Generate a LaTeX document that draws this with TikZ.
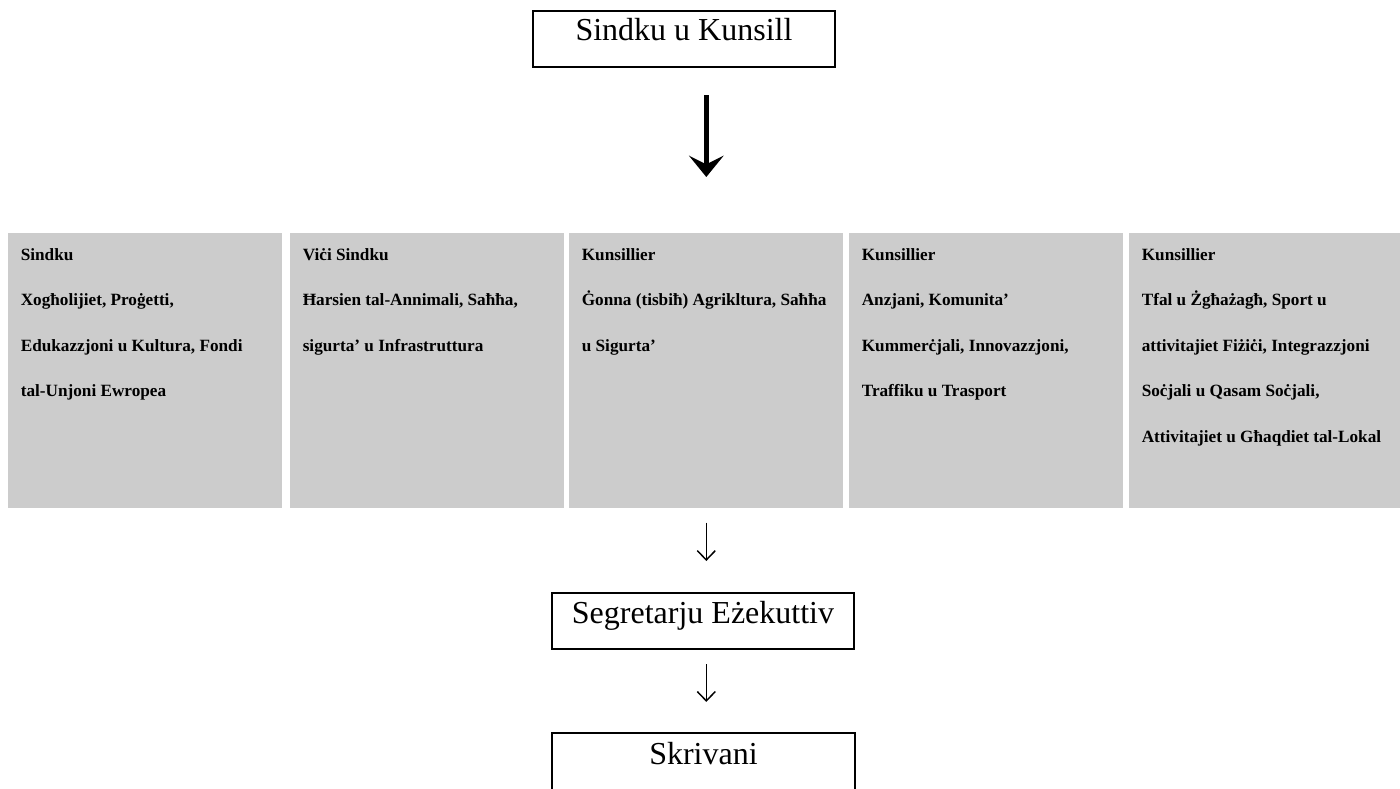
\documentclass[tikz,border=0pt]{standalone}
\usepackage{fontspec}
\setmainfont{Liberation Serif}
\usetikzlibrary{arrows.meta,calc,positioning}
\definecolor{unitgray}{RGB}{204,204,204}
\newcommand{\unitbox}[1]{\begin{minipage}[c][206.25pt][t]{186.75pt}\fontsize{12.9pt}{34.1pt}\selectfont\bfseries\rule{0pt}{20.25pt}#1\end{minipage}}

\begin{document}
\begin{tikzpicture}[x=0.75pt, y=-0.75pt]
        \tikzstyle{office}=[draw, line width=1.5pt, inner xsep=0pt, inner ysep=0pt, minimum width=226.5pt, font=\fontsize{24pt}{28pt}\selectfont]
        \tikzstyle{unit}=[fill=unitgray, anchor=north west, inner xsep=9.4pt, inner ysep=0pt]
        \tikzstyle{bigdown}=[-{Stealth[length=16pt, width=26pt, inset=6.5pt]}, line width=3.4pt]
        \tikzstyle{down}=[-{Straight Barb[length=7pt, width=13.5pt]}, line width=1.1pt]

        \useasboundingbox (0,0) rectangle (1400,789);

        % Top box
        \node[office, text height=21.75pt, text depth=20.25pt] (council) at (684,39) {Sindku u Kunsill};

        % Mayor and councillors
        \node[unit] (mayor) at (8,233) {\unitbox{Sindku\\Xogħolijiet, Proġetti,\\Edukazzjoni u Kultura, Fondi\\tal-Unjoni Ewropea}};
        \node[unit] (deputy) at (290,233) {\unitbox{Viċi Sindku\\Ħarsien tal-Annimali, Saħħa,\\sigurta’ u Infrastruttura}};
        \node[unit] (health) at (569,233) {\unitbox{Kunsillier\\Ġonna (tisbiħ) Agrikltura, Saħħa\\u Sigurta’}};
        \node[unit] (commerce) at (849,233) {\unitbox{Kunsillier\\Anzjani, Komunita’\\Kummerċjali, Innovazzjoni,\\Traffiku u Trasport}};
        \node[unit] (youth) at (1129,233) {\unitbox{Kunsillier\\Tfal u Żgħażagħ, Sport u\\attivitajiet Fiżiċi, Integrazzjoni\\Soċjali u Qasam Soċjali,\\Attivitajiet u Għaqdiet tal-Lokal}};

        % Executive secretary and clerks
        \node[office, text height=22.5pt, text depth=19.5pt] (secretary) at (703,621) {Segretarju Eżekuttiv};
        \node[office, minimum width=227.25pt, text height=22.9pt, text depth=22pt] (clerk) at (703.5,763.4) {Skrivani};

        % Arrows
        \draw[bigdown, shorten <=20.25pt, shorten >=42pt] (council.south -| health.north) -- (health.north);
        \draw[down, shorten <=10.5pt, shorten >=23.25pt] (health.south) -- (health.south |- secretary.north);
        \draw[down, shorten <=10.5pt, shorten >=22.9pt] (secretary.south -| health.south) -- (clerk.north -| health.south);
\end{tikzpicture}
\end{document}
